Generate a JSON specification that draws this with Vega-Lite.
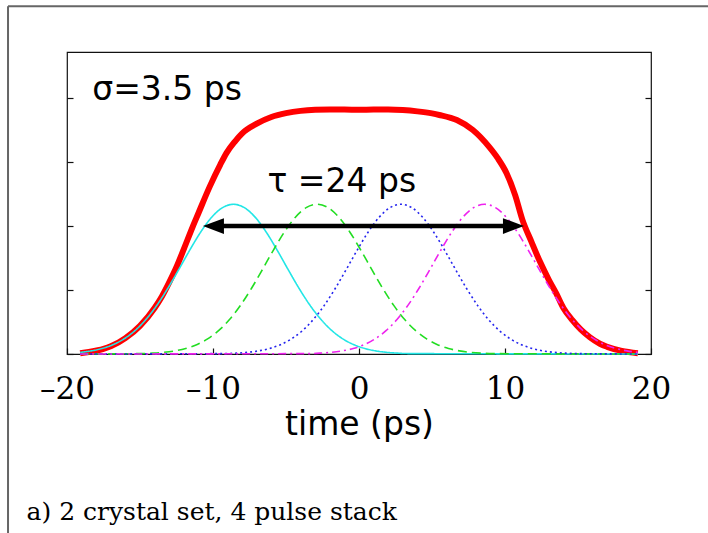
{
  "$schema": "https://vega.github.io/schema/vega-lite/v6.json",
  "width": 584,
  "height": 302,
  "autosize": {"type": "none"},
  "padding": {"left": 67, "top": 52, "right": 57, "bottom": 179},
  "background": "white",
  "config": {
    "view": {"stroke": "#111", "strokeWidth": 1.2},
    "axis": {"tickColor": "#111", "tickWidth": 1.2, "grid": false, "domain": false, "zindex": 1}
  },
  "datasets": {
    "red": [
      {"t": -19.1, "v": 0.003}, {"t": -18.5, "v": 0.008}, {"t": -17.5, "v": 0.02}, {"t": -17.0, "v": 0.03},
      {"t": -16.0, "v": 0.062}, {"t": -15.0, "v": 0.11}, {"t": -14.0, "v": 0.18}, {"t": -13.5, "v": 0.225},
      {"t": -13.0, "v": 0.28}, {"t": -12.5, "v": 0.34}, {"t": -12.0, "v": 0.41}, {"t": -11.4, "v": 0.496},
      {"t": -11.0, "v": 0.55}, {"t": -10.24, "v": 0.652}, {"t": -9.5, "v": 0.74}, {"t": -9.08, "v": 0.785},
      {"t": -8.5, "v": 0.83}, {"t": -8.0, "v": 0.862}, {"t": -7.0, "v": 0.9}, {"t": -6.0, "v": 0.926},
      {"t": -5.0, "v": 0.941}, {"t": -4.0, "v": 0.95}, {"t": -3.0, "v": 0.954}, {"t": -2.0, "v": 0.955},
      {"t": -1.0, "v": 0.955}, {"t": 0.0, "v": 0.954}, {"t": 1.0, "v": 0.955}, {"t": 2.0, "v": 0.955},
      {"t": 3.0, "v": 0.953}, {"t": 4.0, "v": 0.948}, {"t": 5.0, "v": 0.94}, {"t": 5.5, "v": 0.934},
      {"t": 6.7, "v": 0.914}, {"t": 7.8, "v": 0.875}, {"t": 8.9, "v": 0.81}, {"t": 9.5, "v": 0.765},
      {"t": 10.1, "v": 0.707}, {"t": 10.7, "v": 0.62}, {"t": 11.2, "v": 0.523}, {"t": 11.8, "v": 0.44},
      {"t": 12.4, "v": 0.36}, {"t": 13.0, "v": 0.29}, {"t": 13.5, "v": 0.238}, {"t": 14.0, "v": 0.18},
      {"t": 14.6, "v": 0.133}, {"t": 15.2, "v": 0.095}, {"t": 15.8, "v": 0.066}, {"t": 16.5, "v": 0.04},
      {"t": 17.0, "v": 0.028}, {"t": 18.0, "v": 0.012}, {"t": 19.1, "v": 0.003}
    ],
    "pulses": [
      {"s": "c", "t": -19.1, "v": 0.0065}, {"s": "c", "t": -18.35, "v": 0.0121}, {"s": "c", "t": -17.6, "v": 0.0215},
      {"s": "c", "t": -16.85, "v": 0.0364}, {"s": "c", "t": -16.1, "v": 0.0589}, {"s": "c", "t": -15.35, "v": 0.0911},
      {"s": "c", "t": -14.6, "v": 0.1346}, {"s": "c", "t": -13.85, "v": 0.1899}, {"s": "c", "t": -13.1, "v": 0.256},
      {"s": "c", "t": -12.35, "v": 0.3295}, {"s": "c", "t": -11.6, "v": 0.4052}, {"s": "c", "t": -10.85, "v": 0.4758},
      {"s": "c", "t": -10.1, "v": 0.5337}, {"s": "c", "t": -9.35, "v": 0.5717}, {"s": "c", "t": -8.6, "v": 0.585},
      {"s": "c", "t": -7.85, "v": 0.5717}, {"s": "c", "t": -7.1, "v": 0.5337}, {"s": "c", "t": -6.35, "v": 0.4758},
      {"s": "c", "t": -5.6, "v": 0.4052}, {"s": "c", "t": -4.85, "v": 0.3295}, {"s": "c", "t": -4.1, "v": 0.256},
      {"s": "c", "t": -3.35, "v": 0.1899}, {"s": "c", "t": -2.6, "v": 0.1346}, {"s": "c", "t": -1.85, "v": 0.0911},
      {"s": "c", "t": -1.1, "v": 0.0589}, {"s": "c", "t": -0.35, "v": 0.0364}, {"s": "c", "t": 0.4, "v": 0.0215},
      {"s": "c", "t": 1.15, "v": 0.0121}, {"s": "c", "t": 1.9, "v": 0.0065}, {"s": "c", "t": 2.65, "v": 0.0033},
      {"s": "c", "t": 3.4, "v": 0.0016}, {"s": "c", "t": 19.1, "v": 0},

      {"s": "g", "t": -19.1, "v": 0}, {"s": "g", "t": -14.87, "v": 0.0016}, {"s": "g", "t": -14.12, "v": 0.0033},
      {"s": "g", "t": -13.37, "v": 0.0065}, {"s": "g", "t": -12.62, "v": 0.0121}, {"s": "g", "t": -11.87, "v": 0.0215},
      {"s": "g", "t": -11.12, "v": 0.0364}, {"s": "g", "t": -10.37, "v": 0.0589}, {"s": "g", "t": -9.62, "v": 0.0911},
      {"s": "g", "t": -8.87, "v": 0.1346}, {"s": "g", "t": -8.12, "v": 0.1899}, {"s": "g", "t": -7.37, "v": 0.256},
      {"s": "g", "t": -6.62, "v": 0.3295}, {"s": "g", "t": -5.87, "v": 0.4052}, {"s": "g", "t": -5.12, "v": 0.4758},
      {"s": "g", "t": -4.37, "v": 0.5337}, {"s": "g", "t": -3.62, "v": 0.5717}, {"s": "g", "t": -2.87, "v": 0.585},
      {"s": "g", "t": -2.12, "v": 0.5717}, {"s": "g", "t": -1.37, "v": 0.5337}, {"s": "g", "t": -0.62, "v": 0.4758},
      {"s": "g", "t": 0.13, "v": 0.4052}, {"s": "g", "t": 0.88, "v": 0.3295}, {"s": "g", "t": 1.63, "v": 0.256},
      {"s": "g", "t": 2.38, "v": 0.1899}, {"s": "g", "t": 3.13, "v": 0.1346}, {"s": "g", "t": 3.88, "v": 0.0911},
      {"s": "g", "t": 4.63, "v": 0.0589}, {"s": "g", "t": 5.38, "v": 0.0364}, {"s": "g", "t": 6.13, "v": 0.0215},
      {"s": "g", "t": 6.88, "v": 0.0121}, {"s": "g", "t": 7.63, "v": 0.0065}, {"s": "g", "t": 8.38, "v": 0.0033},
      {"s": "g", "t": 9.13, "v": 0.0016}, {"s": "g", "t": 19.1, "v": 0},

      {"s": "b", "t": -19.1, "v": 0}, {"s": "b", "t": -9.13, "v": 0.0016}, {"s": "b", "t": -8.38, "v": 0.0033},
      {"s": "b", "t": -7.63, "v": 0.0065}, {"s": "b", "t": -6.88, "v": 0.0121}, {"s": "b", "t": -6.13, "v": 0.0215},
      {"s": "b", "t": -5.38, "v": 0.0364}, {"s": "b", "t": -4.63, "v": 0.0589}, {"s": "b", "t": -3.88, "v": 0.0911},
      {"s": "b", "t": -3.13, "v": 0.1346}, {"s": "b", "t": -2.38, "v": 0.1899}, {"s": "b", "t": -1.63, "v": 0.256},
      {"s": "b", "t": -0.88, "v": 0.3295}, {"s": "b", "t": -0.13, "v": 0.4052}, {"s": "b", "t": 0.62, "v": 0.4758},
      {"s": "b", "t": 1.37, "v": 0.5337}, {"s": "b", "t": 2.12, "v": 0.5717}, {"s": "b", "t": 2.87, "v": 0.585},
      {"s": "b", "t": 3.62, "v": 0.5717}, {"s": "b", "t": 4.37, "v": 0.5337}, {"s": "b", "t": 5.12, "v": 0.4758},
      {"s": "b", "t": 5.87, "v": 0.4052}, {"s": "b", "t": 6.62, "v": 0.3295}, {"s": "b", "t": 7.37, "v": 0.256},
      {"s": "b", "t": 8.12, "v": 0.1899}, {"s": "b", "t": 8.87, "v": 0.1346}, {"s": "b", "t": 9.62, "v": 0.0911},
      {"s": "b", "t": 10.37, "v": 0.0589}, {"s": "b", "t": 11.12, "v": 0.0364}, {"s": "b", "t": 11.87, "v": 0.0215},
      {"s": "b", "t": 12.62, "v": 0.0121}, {"s": "b", "t": 13.37, "v": 0.0065}, {"s": "b", "t": 14.12, "v": 0.0033},
      {"s": "b", "t": 14.87, "v": 0.0016}, {"s": "b", "t": 19.1, "v": 0},

      {"s": "m", "t": -19.1, "v": 0}, {"s": "m", "t": -3.4, "v": 0.0016}, {"s": "m", "t": -2.65, "v": 0.0033},
      {"s": "m", "t": -1.9, "v": 0.0065}, {"s": "m", "t": -1.15, "v": 0.0121}, {"s": "m", "t": -0.4, "v": 0.0215},
      {"s": "m", "t": 0.35, "v": 0.0364}, {"s": "m", "t": 1.1, "v": 0.0589}, {"s": "m", "t": 1.85, "v": 0.0911},
      {"s": "m", "t": 2.6, "v": 0.1346}, {"s": "m", "t": 3.35, "v": 0.1899}, {"s": "m", "t": 4.1, "v": 0.256},
      {"s": "m", "t": 4.85, "v": 0.3295}, {"s": "m", "t": 5.6, "v": 0.4052}, {"s": "m", "t": 6.35, "v": 0.4758},
      {"s": "m", "t": 7.1, "v": 0.5337}, {"s": "m", "t": 7.85, "v": 0.5717}, {"s": "m", "t": 8.6, "v": 0.585},
      {"s": "m", "t": 9.35, "v": 0.5717}, {"s": "m", "t": 10.1, "v": 0.5337}, {"s": "m", "t": 10.85, "v": 0.4758},
      {"s": "m", "t": 11.6, "v": 0.4052}, {"s": "m", "t": 12.35, "v": 0.3295}, {"s": "m", "t": 13.1, "v": 0.256},
      {"s": "m", "t": 13.85, "v": 0.1899}, {"s": "m", "t": 14.6, "v": 0.1346}, {"s": "m", "t": 15.35, "v": 0.0911},
      {"s": "m", "t": 16.1, "v": 0.0589}, {"s": "m", "t": 16.85, "v": 0.0364}, {"s": "m", "t": 17.6, "v": 0.0215},
      {"s": "m", "t": 18.35, "v": 0.0121}, {"s": "m", "t": 19.1, "v": 0.0065}
    ],
    "arrow": [{"t": -9.97, "v": 0.5}, {"t": 10.58, "v": 0.5}],
    "heads": [{"t": -9.97, "v": 0.5, "dir": "L"}, {"t": 10.58, "v": 0.5, "dir": "R"}],
    "notes": [
      {"t": -18.27, "v": 0.992, "label": "σ=3.5 ps"},
      {"t": -6.27, "v": 0.633, "label": "τ =24 ps"}
    ],
    "caption": [{"t": -22.77, "v": -0.648, "label": "a) 2 crystal set, 4 pulse stack"}],
    "frame": [
      {"t": -24.04, "t2": -24.04, "v": 1.359, "v2": -0.75},
      {"t": -24.04, "t2": 26, "v": 1.359, "v2": 1.359}
    ],
    "dummy": [{"v": 0}]
  },
  "layer": [
    {
      "encoding": {
        "x": {"field": "t", "type": "quantitative", "scale": {"domain": [-20, 20], "nice": false},
          "axis": {"values": [-20, -10, 0, 10, 20], "tickSize": -6, "labelFont": "DejaVu Serif", "labelFontSize": 31,
            "labelExpr": "datum.value < 0 ? '–' + abs(datum.value) : datum.label",
            "labelColor": "#000", "labelPadding": 26, "labelFlush": false, "labelOverlap": false,
            "title": "time (ps)", "titleFont": "DejaVu Sans", "titleFontSize": 33, "titleFontWeight": "normal",
            "titleColor": "#000", "titlePadding": 4}},
        "y": {"field": "v", "type": "quantitative", "scale": {"domain": [0, 1.18], "nice": false, "zero": false},
          "axis": {"orient": "left", "values": [0, 0.25, 0.5, 0.75, 1], "labels": false, "tickSize": -6, "title": null}}
      },
      "layer": [
        {
          "data": {"name": "red"},
          "mark": {"type": "line", "color": "#ff0000", "strokeWidth": 6, "interpolate": "monotone"}
        },
        {
          "data": {"name": "pulses"},
          "mark": {"type": "line", "strokeWidth": 1.6, "interpolate": "monotone"},
          "encoding": {
            "color": {"field": "s", "type": "nominal", "legend": null,
              "scale": {"domain": ["c", "g", "b", "m"], "range": ["#22e6e6", "#22dd22", "#2424ee", "#ee22ee"]}},
            "strokeDash": {"field": "s", "type": "nominal", "legend": null,
              "scale": {"domain": ["c", "g", "b", "m"], "range": [[1, 0], [9, 5], [2, 3], [8, 4, 2, 4]]}}
          }
        },
        {
          "data": {"name": "arrow"},
          "mark": {"type": "line", "color": "#000", "strokeWidth": 4.5}
        },
        {
          "data": {"name": "heads"},
          "mark": {"type": "point", "filled": true, "color": "#000", "opacity": 1, "size": 441, "strokeWidth": 0},
          "encoding": {
            "shape": {"field": "dir", "type": "nominal", "legend": null,
              "scale": {"domain": ["L", "R"], "range": ["M-1,0L1,-0.75L1,0.75Z", "M1,0L-1,-0.75L-1,0.75Z"]}}
          }
        },
        {
          "data": {"name": "notes"},
          "mark": {"type": "text", "font": "DejaVu Sans", "fontSize": 33, "align": "left", "baseline": "alphabetic", "color": "#000"},
          "encoding": {"text": {"field": "label"}}
        },
        {
          "data": {"name": "caption"},
          "mark": {"type": "text", "font": "DejaVu Serif", "fontSize": 25, "align": "left", "baseline": "alphabetic", "color": "#000"},
          "encoding": {"text": {"field": "label"}}
        },
        {
          "data": {"name": "frame"},
          "mark": {"type": "rule", "color": "#666", "strokeWidth": 2},
          "encoding": {"x2": {"field": "t2"}, "y2": {"field": "v2"}}
        }
      ]
    },
    {
      "data": {"name": "dummy"},
      "mark": {"type": "rule", "opacity": 0},
      "encoding": {
        "y": {"field": "v", "type": "quantitative", "scale": {"domain": [0, 1.18], "nice": false, "zero": false},
          "axis": {"orient": "right", "values": [0, 0.25, 0.5, 0.75, 1], "labels": false, "tickSize": -6, "title": null}}
      }
    }
  ],
  "resolve": {"scale": {"y": "independent"}}
}
